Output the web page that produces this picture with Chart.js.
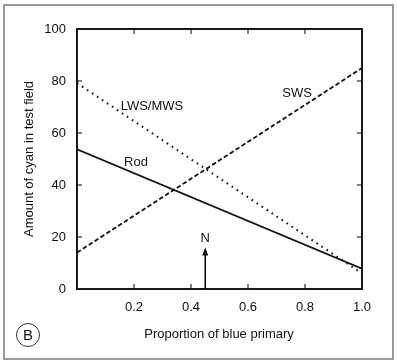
<!DOCTYPE html>
<html>
<head>
<meta charset="utf-8">
<script src="https://cdn.jsdelivr.net/npm/chart.js@4.4.1/dist/chart.umd.min.js"></script>
<style>
  body { margin: 0; background: #fff; }
  canvas { display: block; }
</style>
</head>
<body>
<canvas id="chart" width="397" height="363"></canvas>
<script>
/* Data */
let xEnds = [0, 1.0];
let rodValues = [53.7, 7.8];
let lwsMwsValues = [79.2, 6.0];
let swsValues = [14.0, 85.0];
let xTicks = [0, 0.2, 0.4, 0.6, 0.8, 1.0];
let yTicks = [0, 20, 40, 60, 80, 100];
let neutralPoint = 0.45;

let font = "'Liberation Sans', Arial, Helvetica, sans-serif";

function toPoints(values) {
  return xEnds.map((x, i) => ({ x: x, y: values[i] }));
}

//-----------------------------------------------//
/* Frame, inward ticks and annotations */
//-----------------------------------------------//
const decorations = {
  id: 'decorations',
  afterDatasetsDraw(chart) {
    const ctx = chart.ctx;
    const area = chart.chartArea;
    const xs = chart.scales.x;
    const ys = chart.scales.y;
    ctx.save();

    // plot box
    ctx.strokeStyle = '#000';
    ctx.lineWidth = 1.8;
    ctx.strokeRect(area.left, area.top, area.right - area.left, area.bottom - area.top);

    // inward tick marks on all four sides
    ctx.lineWidth = 1;
    ctx.beginPath();
    xTicks.slice(1, -1).forEach((v) => {
      let px = xs.getPixelForValue(v);
      ctx.moveTo(px, area.bottom); ctx.lineTo(px, area.bottom - 5);
      ctx.moveTo(px, area.top); ctx.lineTo(px, area.top + 5);
    });
    yTicks.slice(1, -1).forEach((v) => {
      let py = ys.getPixelForValue(v);
      ctx.moveTo(area.left, py); ctx.lineTo(area.left + 5, py);
      ctx.moveTo(area.right, py); ctx.lineTo(area.right - 5, py);
    });
    ctx.stroke();

    // curve labels
    ctx.fillStyle = '#111';
    ctx.font = '13px ' + font;
    ctx.textAlign = 'center';
    ctx.textBaseline = 'middle';
    ctx.fillText('LWS/MWS', xs.getPixelForValue(0.263), ys.getPixelForValue(70.4));
    ctx.fillText('Rod', xs.getPixelForValue(0.207), ys.getPixelForValue(48.5));
    ctx.fillText('SWS', xs.getPixelForValue(0.772), ys.getPixelForValue(75.4));
    ctx.fillText('N', xs.getPixelForValue(neutralPoint), ys.getPixelForValue(19.4));

    // arrow for N
    let ax = xs.getPixelForValue(neutralPoint);
    let ay0 = ys.getPixelForValue(0);
    let ay1 = ys.getPixelForValue(16);
    ctx.lineWidth = 1.5;
    ctx.beginPath();
    ctx.moveTo(ax, ay0);
    ctx.lineTo(ax, ay1 + 4);
    ctx.stroke();
    ctx.beginPath();
    ctx.moveTo(ax, ay1);
    ctx.lineTo(ax - 3, ay1 + 8);
    ctx.lineTo(ax + 3, ay1 + 8);
    ctx.closePath();
    ctx.fill();

    // axis titles
    ctx.fillText('Proportion of blue primary', 219, 334);
    ctx.save();
    ctx.translate(29, 159);
    ctx.rotate(-Math.PI / 2);
    ctx.fillText('Amount of cyan in test field', 0, 0);
    ctx.restore();

    // panel letter
    ctx.strokeStyle = '#333';
    ctx.lineWidth = 1;
    ctx.beginPath();
    ctx.arc(28, 335, 11.5, 0, Math.PI * 2);
    ctx.stroke();
    ctx.font = '15px ' + font;
    ctx.fillText('B', 28, 336);

    // outer figure frame
    ctx.strokeStyle = '#9a9a9a';
    ctx.lineWidth = 2;
    ctx.strokeRect(4, 5, 389, 354);
    ctx.restore();
  },
};

//-----------------------------------------------//
/* Line Chart Using Chart.JS */
//-----------------------------------------------//
function lineChart() {
  let ctx = document.getElementById('chart').getContext('2d');
  let chart = new Chart(ctx, {
    type: 'line',
    data: {
      datasets: [
        {
          label: 'LWS/MWS',
          data: toPoints(lwsMwsValues),
          borderColor: '#111',
          borderWidth: 2,
          borderDash: [1.6, 4.4],
          pointRadius: 0,
          fill: false,
        },
        {
          label: 'Rod',
          data: toPoints(rodValues),
          borderColor: '#111',
          borderWidth: 1.8,
          pointRadius: 0,
          fill: false,
        },
        {
          label: 'SWS',
          data: toPoints(swsValues),
          borderColor: '#111',
          borderWidth: 1.8,
          borderDash: [4.5, 2.5],
          pointRadius: 0,
          fill: false,
        },
      ],
    },
    options: {
      responsive: false,
      animation: false,
      layout: {
        padding: { left: 27, right: 35, top: 29, bottom: 29 },
      },
      scales: {
        x: {
          type: 'linear',
          min: 0,
          max: 1.0,
          afterFit: (s) => { s.height = 45; },
          afterBuildTicks: (s) => { s.ticks = xTicks.map((v) => ({ value: v })); },
          grid: { display: false, drawTicks: false },
          border: { display: false },
          ticks: {
            padding: 11,
            color: '#111',
            font: { family: font, size: 13 },
            callback: (v) => (v === 0 ? '' : v.toFixed(1)),
          },
        },
        y: {
          min: 0,
          max: 100,
          afterFit: (s) => { s.width = 50; },
          afterBuildTicks: (s) => { s.ticks = yTicks.map((v) => ({ value: v })); },
          grid: { display: false, drawTicks: false },
          border: { display: false },
          ticks: {
            padding: 11,
            color: '#111',
            font: { family: font, size: 13 },
          },
        },
      },
      plugins: {
        legend: { display: false },
        tooltip: { enabled: false },
      },
    },
    plugins: [decorations],
  });
}

lineChart();
</script>
</body>
</html>
